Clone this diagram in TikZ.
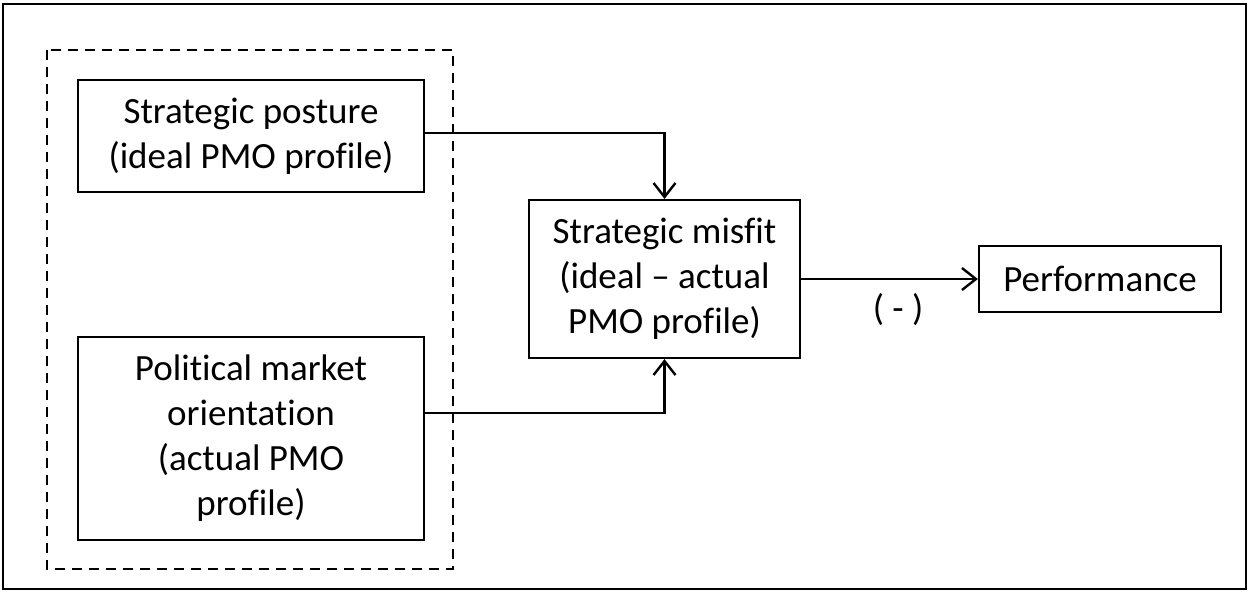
\documentclass[tikz,border=0pt]{standalone}
\usepackage{fontspec}
\setmainfont[Ligatures=NoCommon,RawFeature={-liga;-clig;-calt;-dlig}]{Carlito}
\usetikzlibrary{arrows.meta}
\begin{document}
\begin{tikzpicture}[x=1pt,y=-1pt,
  box/.style={draw,line width=2.2pt,align=center,inner sep=0pt,font=\fontsize{37}{45}\selectfont},
  conn/.style={line width=2.4pt,-{Straight Barb[length=14pt,width=22pt,line width=2.4pt]}}]
\useasboundingbox (0,0) rectangle (1250,592);
\draw[line width=2.4pt] (3,4) rectangle (1246,589);
\draw[line width=2.2pt,dash pattern=on 10pt off 7pt] (47,50) rectangle (453,569);
\node[box,minimum width=346pt,minimum height=112pt] (sp) at (251,136) {Strategic posture\\(ideal PMO profile)};
\node[box,minimum width=346pt,minimum height=203pt] (pmo) at (251,438.5) {Political market\\orientation\\(actual PMO\\profile)};
\node[box,minimum width=271pt,minimum height=158pt] (mis) at (664.5,279) {Strategic misfit\\(ideal -- actual\\PMO profile)};
\node[box,minimum width=242pt,minimum height=66pt] (perf) at (1100,279) {Performance};
\node[font=\fontsize{37}{45}\selectfont,inner sep=0pt] (neg) at (898,310) {( - )};
\draw[conn] (sp.east |- 0,133) -| (mis.north);
\draw[conn] (pmo.east |- 0,413) -| (mis.south);
\draw[conn] (mis.east) -- (perf.west);
\end{tikzpicture}
\end{document}
